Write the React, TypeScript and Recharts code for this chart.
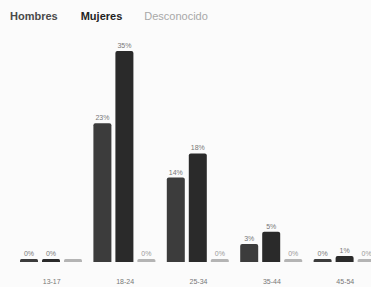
import React from 'react';
import { Bar, BarChart, LabelList, XAxis, YAxis } from 'recharts';

const ageGroups = ['13-17', '18-24', '25-34', '35-44', '45-54'];
const hombres = [0, 23, 14, 3, 0];
const mujeres = [0, 35, 18, 5, 1];
const desconocido = [0, 0, 0, 0, 0];
const desconocidoLabels = ['', '0%', '0%', '0%', '0%'];

const series = [
  { key: 'hombres', name: 'Hombres', color: '#3c3c3c', legend: '#4a4a4a', weight: 700 },
  { key: 'mujeres', name: 'Mujeres', color: '#2a2a2a', legend: '#222', weight: 700 },
  { key: 'desconocido', name: 'Desconocido', color: '#b4b4b4', legend: '#a8a8a8', weight: 400 },
];

const data = ageGroups.map((group, i) => ({
  group,
  hombres: hombres[i],
  mujeres: mujeres[i],
  desconocido: desconocido[i],
  desconocidoLabel: desconocidoLabels[i],
}));

const pct = (v: any) => `${v}%`;

export default function App() {
  return (
    <div style={{ position: 'absolute', left: 0, top: 0, width: 371, height: 287, overflow: 'hidden', background: '#fbfbfb', fontFamily: '"Liberation Sans", Arial, sans-serif' }}>
      {/* legend, plain text */}
      <div style={{ position: 'absolute', left: 10, top: 10, display: 'flex', fontSize: 11, lineHeight: '12px' }}>
        {series.map((s, i) => (
          <span key={s.key} style={{ color: s.legend, fontWeight: s.weight, marginRight: i === 0 ? 23 : 22 }}>{s.name}</span>
        ))}
      </div>
      <BarChart
        width={390}
        height={287}
        data={data}
        margin={{ top: 51, right: 8, bottom: 0, left: 15 }}
        barCategoryGap={5}
        barGap={4}
      >
        <XAxis
          dataKey="group"
          axisLine={false}
          tickLine={false}
          height={25}
          tickMargin={11}
          tick={{ fill: '#777', fontSize: 7 }}
        />
        <YAxis hide domain={[0, 35]} />
        <Bar dataKey="hombres" fill={series[0].color} minPointSize={3} radius={[2, 2, 0, 0]} isAnimationActive={false}>
          <LabelList dataKey="hombres" position="top" offset={3} formatter={pct} style={{ fill: '#777', fontSize: 7 }} />
        </Bar>
        <Bar dataKey="mujeres" fill={series[1].color} minPointSize={3} radius={[2, 2, 0, 0]} isAnimationActive={false}>
          <LabelList dataKey="mujeres" position="top" offset={3} formatter={pct} style={{ fill: '#777', fontSize: 7 }} />
        </Bar>
        <Bar dataKey="desconocido" fill={series[2].color} minPointSize={3} radius={[2, 2, 0, 0]} isAnimationActive={false}>
          <LabelList dataKey="desconocidoLabel" position="top" offset={3} style={{ fill: '#999', fontSize: 7 }} />
        </Bar>
      </BarChart>
    </div>
  );
}
